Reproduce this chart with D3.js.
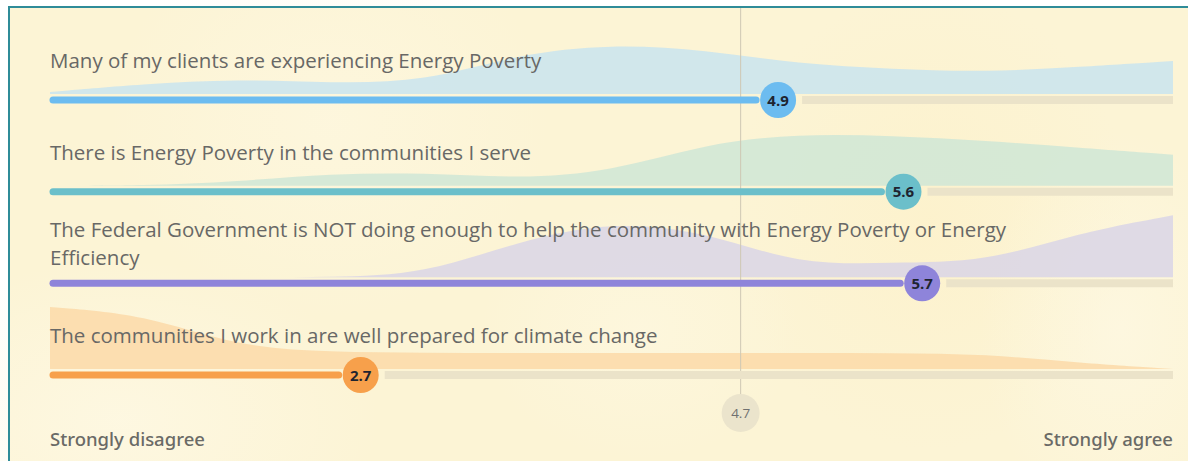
<!DOCTYPE html>
<html>
<head>
<meta charset="utf-8">
<script src="https://cdn.jsdelivr.net/npm/d3@7"></script>
<style>
  html, body { margin: 0; padding: 0; background: #ffffff; }
  svg { display: block; }
</style>
</head>
<body>
<svg id="chart" width="1188" height="461"></svg>
<script>
// ---------- data ----------
const statements = [
  "Many of my clients are experiencing Energy Poverty",
  "There is Energy Poverty in the communities I serve",
  "The Federal Government is NOT doing enough to help the community with Energy Poverty or Energy Efficiency",
  "The communities I work in are well prepared for climate change"
];
const means = [4.89, 5.56, 5.66, 2.66];
const overallMean = 4.69;
const colors = ["#6cbcf0", "#6bbfca", "#8e84da", "#f7a04b"];
const areaColors = ["#c9e4ee", "#cfe6d6", "#d9d5e6", "#fcd9a8"];
// density estimates sampled at scale points 1, 1.5, ..., 7
const densityX = [1, 1.5, 2, 2.5, 3, 3.5, 4, 4.5, 5, 5.5, 6, 6.5, 7];
const densities = [
  [0.02, 0.10, 0.15, 0.11, 0.12, 0.40, 0.50, 0.44, 0.30, 0.25, 0.22, 0.27, 0.33],
  [0.00, 0.00, 0.04, 0.12, 0.13, 0.07, 0.14, 0.42, 0.52, 0.50, 0.45, 0.38, 0.31],
  [0.00, 0.00, 0.00, 0.00, 0.03, 0.36, 0.56, 0.46, 0.12, 0.15, 0.15, 0.45, 0.62],
  [0.62, 0.55, 0.22, 0.17, 0.16, 0.16, 0.16, 0.16, 0.16, 0.16, 0.15, 0.06, 0.00]
];
const axisLabels = ["Strongly disagree", "Strongly agree"];
const scaleDomain = [1, 7];

// ---------- layout ----------
const svg = d3.select("#chart");
const W = 1188, H = 461;
const x = d3.scaleLinear().domain(scaleDomain).range([50, 1173]);
const rowY = d3.scaleLinear().domain([0, 3]).range([100, 375]);
const dens = d3.scaleLinear().domain([0, 0.62]).range([0, 62]);

// background
const bg = svg.append("g");
bg.append("rect").attr("x", 9).attr("y", 7).attr("width", W).attr("height", H)
  .attr("fill", "#fcf4d5");
const blobs = [
  {cx: 120, cy: 420, rx: 260, ry: 160, c: "#fef9e6", o: 0.7},
  {cx: 330, cy: 120, rx: 220, ry: 200, c: "#fef8e2", o: 0.6},
  {cx: 930, cy: 220, rx: 200, ry: 230, c: "#fdf0c6", o: 0.55},
  {cx: 1120, cy: 330, rx: 140, ry: 200, c: "#fef9e6", o: 0.6},
  {cx: 640, cy: 330, rx: 160, ry: 130, c: "#fef9e4", o: 0.5}
];
const defs = svg.append("defs");
blobs.forEach((b, i) => {
  const g = defs.append("radialGradient").attr("id", "blob" + i);
  g.append("stop").attr("offset", "0%").attr("stop-color", b.c).attr("stop-opacity", b.o);
  g.append("stop").attr("offset", "100%").attr("stop-color", b.c).attr("stop-opacity", 0);
  bg.append("ellipse").attr("cx", b.cx).attr("cy", b.cy).attr("rx", b.rx).attr("ry", b.ry)
    .attr("fill", `url(#blob${i})`);
});
// frame (top + left edges visible)
svg.append("line").attr("x1", 9).attr("x2", W).attr("y1", 7).attr("y2", 7)
  .attr("stroke", "#2f8c98").attr("stroke-width", 2);
svg.append("line").attr("x1", 9).attr("x2", 9).attr("y1", 6).attr("y2", H)
  .attr("stroke", "#2f8c98").attr("stroke-width", 2);

// density areas
const area = d3.area()
  .x(d => x(d[0]))
  .y0(0)
  .y1(d => -dens(d[1]))
  .curve(d3.curveBasis);
statements.forEach((s, i) => {
  const pts = densityX.map((v, j) => [v, densities[i][j]]);
  svg.append("path")
    .attr("transform", `translate(0,${rowY(i) - 6})`)
    .attr("d", area(pts))
    .attr("fill", areaColors[i])
    .attr("opacity", 0.85);
});

// mean line
svg.append("line")
  .attr("x1", x(overallMean)).attr("x2", x(overallMean))
  .attr("y1", 8).attr("y2", 396)
  .attr("stroke", "#cfc8b4").attr("stroke-width", 1);

// labels
const fontLabel = "'Open Sans', 'Noto Sans', sans-serif";
const labelSize = 20.5;
statements.forEach((s, i) => {
  const t = svg.append("text")
    .attr("x", 50)
    .attr("font-family", fontLabel)
    .attr("font-size", labelSize)
    .attr("fill", "#686866");
  // wrap
  const words = s.split(" ");
  const lines = [];
  let cur = [];
  const probe = svg.append("text").attr("font-family", fontLabel).attr("font-size", labelSize);
  words.forEach(w => {
    const test = cur.concat([w]).join(" ");
    probe.text(test);
    if (probe.node().getComputedTextLength() > 990 && cur.length) {
      lines.push(cur.join(" "));
      cur = [w];
    } else cur.push(w);
  });
  lines.push(cur.join(" "));
  probe.remove();
  const first = rowY(i) - 32 - 14 * (lines.length - 1);
  lines.forEach((l, k) => {
    t.append("tspan").attr("x", 50).attr("y", first + k * 28).text(l);
  });
});

// bars
statements.forEach((s, i) => {
  const y = rowY(i);
  const cx = x(means[i]);
  svg.append("line")
    .attr("x1", cx + 24).attr("x2", x(scaleDomain[1]))
    .attr("y1", y).attr("y2", y)
    .attr("stroke", "#ebe3c9").attr("stroke-width", 8);
  svg.append("line")
    .attr("x1", x(scaleDomain[0]) + 3).attr("x2", cx - 22)
    .attr("y1", y).attr("y2", y)
    .attr("stroke", colors[i]).attr("stroke-width", 7)
    .attr("stroke-linecap", "round");
  svg.append("circle").attr("cx", cx).attr("cy", y).attr("r", 18)
    .attr("fill", colors[i]);
  svg.append("text").attr("x", cx).attr("y", y + 5.5)
    .attr("text-anchor", "middle")
    .attr("font-family", fontLabel).attr("font-weight", 700)
    .attr("font-size", 15).attr("fill", "#1e2430")
    .text(means[i].toFixed(1));
});

// overall mean marker
svg.append("circle").attr("cx", x(overallMean)).attr("cy", 413).attr("r", 19)
  .attr("fill", "#ebe4cc");
svg.append("text").attr("x", x(overallMean)).attr("y", 418)
  .attr("text-anchor", "middle")
  .attr("font-family", fontLabel).attr("font-size", 13.5).attr("fill", "#707070")
  .text(overallMean.toFixed(1));

// axis labels
svg.append("text").attr("x", x(scaleDomain[0])).attr("y", 446)
  .attr("font-family", "'Noto Sans', sans-serif").attr("font-weight", 500)
  .attr("font-size", 18.5).attr("fill", "#6a6a66")
  .text(axisLabels[0]);
svg.append("text").attr("x", x(scaleDomain[1])).attr("y", 446)
  .attr("text-anchor", "end")
  .attr("font-family", "'Noto Sans', sans-serif").attr("font-weight", 500)
  .attr("font-size", 18.5).attr("fill", "#6a6a66")
  .text(axisLabels[1]);
</script>
</body>
</html>
